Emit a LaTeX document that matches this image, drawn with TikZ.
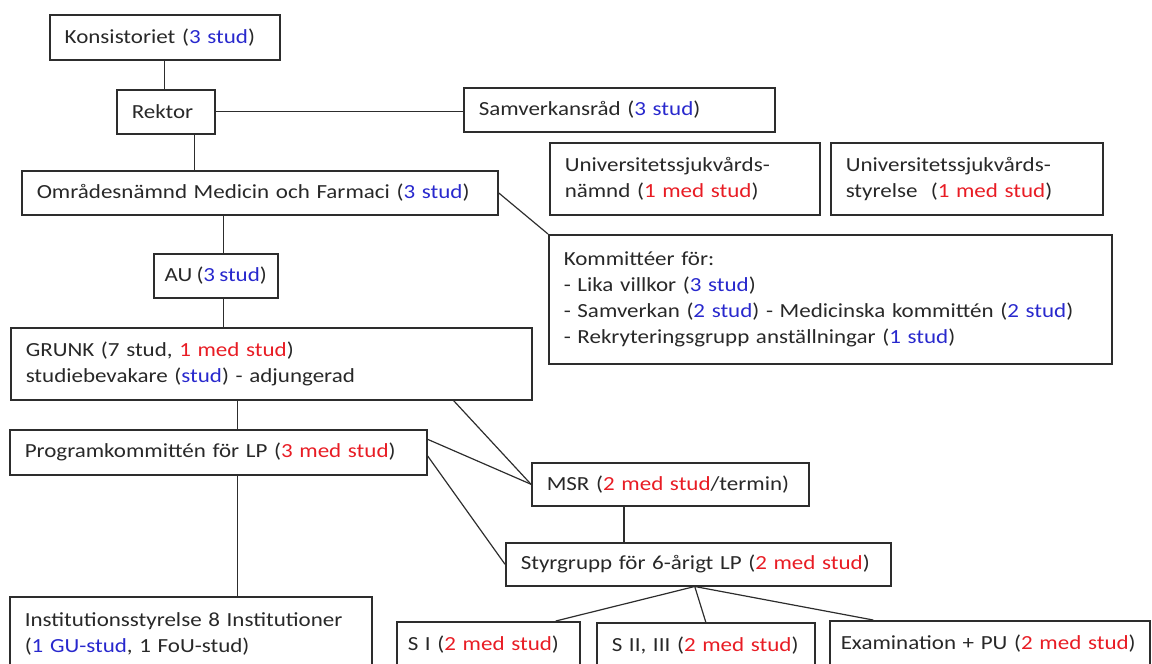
\documentclass[tikz,border=0pt]{standalone}
\usepackage{fontspec}
\setmainfont{Carlito}[FakeStretch=1.15,WordSpace=0.8]
\usetikzlibrary{calc}
\definecolor{studblue}{RGB}{40,40,205}
\definecolor{studred}{RGB}{232,28,36}
\definecolor{textgray}{RGB}{40,40,40}
\definecolor{linegray}{RGB}{45,45,45}
\newcommand{\studb}[1]{\textcolor{studblue}{#1}}
\newcommand{\studr}[1]{\textcolor{studred}{#1}}

\begin{document}
\begin{tikzpicture}[x=0.5pt,y=-0.5pt,
        box/.style={draw=linegray, line width=0.75pt, anchor=north west, align=left,
            inner xsep=7.5pt, inner ysep=0pt, text=textgray, font=\fontsize{10}{13}\selectfont},
        cutbox/.style={box, text height=14.5pt, text depth=30pt},
        link/.style={draw=linegray, line width=0.6pt}]
            \useasboundingbox (0,0) rectangle (1152,664);
            \clip (0,0) rectangle (1152,664);

            % Ledning
            \node[box, text width=100pt, minimum height=22.5pt] (kons) at (49,14) {Konsistoriet (\studb{3 stud})};
            \node[box, text width=34pt, minimum height=22pt] (rektor) at (116,89) {Rektor};
            \node[box, text width=140.5pt, minimum height=22pt] (samv) at (463,87) {Samverkansråd (\studb{3 stud})};
            \node[box, text width=120pt, minimum height=36pt] (usnamnd) at (549,142) {Universitetssjukvårds-\\nämnd (\studr{1 med stud})};
            \node[box, text width=121pt, minimum height=36pt] (usstyr) at (830,142) {Universitetssjukvårds-\\styrelse~ (\studr{1 med stud})};

            % Områdesnämnd och kommittéer
            \node[box, text width=223pt, minimum height=22pt] (omr) at (21,170) {Områdesnämnd Medicin och Farmaci (\studb{3 stud})};
            \node[box, text width=266.5pt, minimum height=64.5pt] (komm) at (548,234) {Kommittéer för:\\- Lika villkor (\studb{3 stud})\\- Samverkan (\studb{2 stud}) - Medicinska kommittén (\studb{2 stud})\\- Rekryteringsgrupp anställningar (\studb{1 stud})};
            \node[box, inner xsep=0pt, minimum width=62pt, minimum height=22pt] (au) at (153,253) {AU (\studb{3 stud})};
            \node[box, text width=245.5pt, minimum height=36pt] (grunk) at (10,327) {GRUNK (7 stud, \studr{1 med stud})\\studiebevakare (\studb{stud}) - adjungerad};

            % Läkarprogrammet
            \node[box, text width=193.5pt, minimum height=22.5pt] (prog) at (9,429) {Programkommittén för LP (\studr{3 med stud})};
            \node[box, text width=123.5pt, minimum height=21.5pt] (msr) at (531,462) {MSR (\studr{2 med stud}/termin)};
            \node[box, text width=177.5pt, minimum height=21.5pt] (styr) at (505,542) {Styrgrupp för 6-årigt LP (\studr{2 med stud})};

            % Nedersta raden (avskuren)
            \node[box, inner ysep=8pt, text width=166pt] (inst) at (9,596) {Institutionsstyrelse 8 Institutioner\\(\studb{1 GU-stud}, 1 FoU-stud)};
            \node[cutbox, inner xsep=5.5pt, text width=80.5pt] (si) at (396,621) {S I (\studr{2 med stud})};
            \node[cutbox, text width=94pt] (sii) at (596,622) {S II, III (\studr{2 med stud})};
            \node[cutbox, inner xsep=5.5pt, text width=149pt] (exam) at (829,620) {Examination + PU (\studr{2 med stud})};

            % Linjer
            \draw[link] (kons.south) -- (kons.south |- rektor.north);
            \draw[link] (rektor.east) -- (rektor.east -| samv.west);
            \draw[link] ([xshift=-10.5pt]rektor.south east) coordinate (r) -- (r |- omr.north);
            \draw[link] (omr.east) -- (komm.north west);
            \draw[link] ([xshift=4pt]au.north) coordinate (a) -- (a |- omr.south);
            \draw[link] ([xshift=4pt]au.south) coordinate (a) -- (a |- grunk.north);
            \draw[link] ([xshift=9.75pt]prog.north) coordinate (p) -- (p |- grunk.south);
            \draw[link] ([xshift=9.75pt]prog.south) coordinate (p) -- (p |- inst.north);
            \draw[link] ([xshift=-39.5pt]grunk.south east) -- (msr.west);
            \draw[link] ([yshift=6.5pt]prog.east) -- (msr.west);
            \draw[link] ([yshift=-1.75pt]prog.east) -- (styr.west);
            \draw[link] ([xshift=46.5pt]msr.south west) coordinate (m) -- (m |- styr.north);

            % Styrgrupp till terminerna
            \coordinate (f) at ([xshift=-1.75pt]styr.south);
            \draw[link] (f) -- ([xshift=33.75pt]si.north);
            \draw[link] (f) -- (sii.north);
            \draw[link] (f) -- ([xshift=-58.25pt]exam.north);
        \end{tikzpicture}
\end{document}
